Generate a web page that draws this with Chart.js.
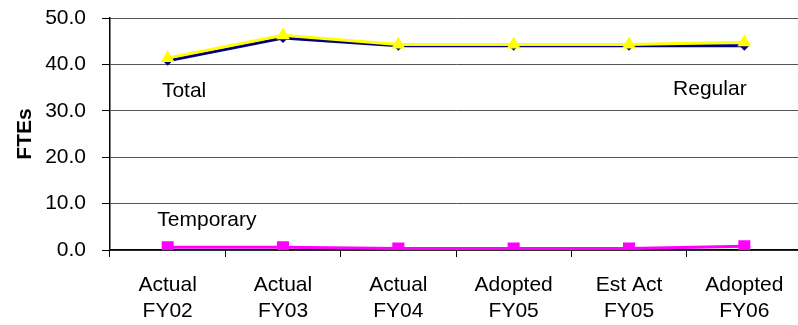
<!DOCTYPE html>
<html>
<head>
<meta charset="utf-8">
<script src="https://cdn.jsdelivr.net/npm/chart.js@4"></script>
<style>
  html, body { margin: 0; padding: 0; background: #fff; overflow: hidden; }
  #wrap { width: 812px; height: 325px; }
</style>
</head>
<body>
<div id="wrap"><canvas id="chart" width="812" height="325"></canvas></div>
<script>
const categories = [["Actual","FY02"],["Actual","FY03"],["Actual","FY04"],["Adopted","FY05"],["Est Act","FY05"],["Adopted","FY06"]];
const totalFte = [41.4, 46.3, 44.3, 44.3, 44.3, 44.8];
const regularFte = [40.8, 45.7, 44.0, 44.0, 44.0, 44.0];
const temporaryFte = [0.6, 0.6, 0.3, 0.3, 0.3, 0.8];
const yTicks = [0, 10, 20, 30, 40, 50];

// series names written inside the plot, placed in data units
const seriesLabels = [
  { text: "Total", x: -0.05, y: 33.0, align: "left" },
  { text: "Regular", x: 5.02, y: 33.4, align: "right" },
  { text: "Temporary", x: -0.09, y: 5.2, align: "left" }
];

const FONT = "'Liberation Sans', Arial, sans-serif";

const labelPlugin = {
  id: "seriesLabels",
  afterDatasetsDraw(chart) {
    const ctx = chart.ctx;
    const xs = chart.scales.x, ys = chart.scales.y;
    ctx.save();
    ctx.font = "21px " + FONT;
    ctx.fillStyle = "#000";
    ctx.textBaseline = "alphabetic";
    seriesLabels.forEach(l => {
      ctx.textAlign = l.align;
      ctx.fillText(l.text, xs.getPixelForValue(l.x), ys.getPixelForValue(l.y));
    });
    ctx.restore();
  }
};

new Chart(document.getElementById("chart").getContext("2d"), {
  type: "line",
  data: {
    labels: categories,
    datasets: [
      {
        label: "Total",
        data: totalFte,
        borderColor: "#ffff00",
        backgroundColor: "#ffff00",
        borderWidth: 3,
        pointStyle: "triangle",
        pointRadius: 8,
        pointBorderWidth: 0,
        tension: 0
      },
      {
        label: "Regular",
        data: regularFte,
        borderColor: "#000080",
        backgroundColor: "#000080",
        borderWidth: 3,
        pointStyle: "rectRot",
        pointRadius: 5,
        pointBorderWidth: 0,
        tension: 0
      },
      {
        label: "Temporary",
        data: temporaryFte,
        borderColor: "#ff00ff",
        backgroundColor: "#ff00ff",
        borderWidth: 3,
        pointStyle: "rect",
        pointRadius: 8.5,
        pointBorderWidth: 0,
        tension: 0
      }
    ]
  },
  options: {
    responsive: false,
    animation: false,
    layout: { padding: { top: 18, right: 10, left: 0, bottom: 0 } },
    plugins: { legend: { display: false }, tooltip: { enabled: false } },
    scales: {
      x: {
        offset: true,
        grid: { offset: true, drawOnChartArea: false, drawTicks: true, tickLength: 7, color: "#000", lineWidth: 1 },
        border: { display: true, color: "#000", width: 1.5 },
        ticks: {
          color: "#000",
          font: { family: FONT, size: 21, lineHeight: 1.26 },
          padding: 15,
          maxRotation: 0,
          autoSkip: false
        },
        afterFit(scale) { scale.height = 75; }
      },
      y: {
        min: 0,
        max: 50,
        afterBuildTicks(scale) { scale.ticks = yTicks.map(v => ({ value: v })); },
        grid: {
          color: "#555",
          lineWidth: 1,
          drawTicks: true,
          tickLength: 8,
          tickColor: "#000"
        },
        border: { display: true, color: "#000", width: 1.5 },
        ticks: {
          color: "#000",
          font: { family: FONT, size: 21 },
          padding: 16,
          callback: v => v.toFixed(1)
        },
        title: {
          display: true,
          text: "FTEs",
          color: "#000",
          font: { family: FONT, size: 21, weight: "bold" },
          padding: { top: 13, bottom: 0 }
        },
        afterFit(scale) {
          scale.width = 110;
          scale.paddingTop = 0;
          scale.paddingBottom = 0;
        }
      }
    }
  },
  plugins: [labelPlugin]
});
</script>
</body>
</html>
